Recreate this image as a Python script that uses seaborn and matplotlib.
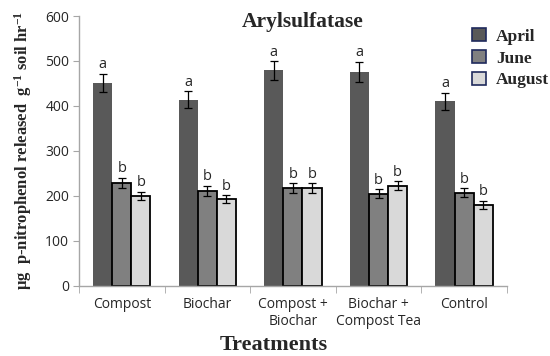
import pandas as pd
import seaborn as sns
import matplotlib.pyplot as plt
from matplotlib.patches import Patch
from matplotlib.ticker import FixedLocator

treatments = ["Compost", "Biochar", "Compost +\nBiochar", "Biochar +\nCompost Tea", "Control"]
months = ["April", "June", "August"]
april = [451, 414, 479, 475, 410]
june = [228, 211, 217, 204, 207]
august = [200, 192, 217, 222, 180]
april_err = [21, 19, 21, 23, 19]
june_err = [12, 11, 11, 10, 10]
august_err = [9, 9, 11, 10, 9]
april_sig = ["a"] * 5
june_sig = ["b"] * 5
august_sig = ["b"] * 5

df = pd.DataFrame({
    "treatment": treatments * 3,
    "month": ["April"] * 5 + ["June"] * 5 + ["August"] * 5,
    "value": april + june + august,
})
errs = [april_err, june_err, august_err]
sigs = [april_sig, june_sig, august_sig]

sns.set_style("white")
plt.rcParams["mathtext.default"] = "regular"
serif = "Liberation Serif"
sans = "Open Sans"
colors = ["#595959", "#808080", "#d9d9d9"]

fig = plt.figure(figsize=(5.5, 3.56), dpi=100)
ax = fig.add_axes([0.1436, 0.198, 0.778, 0.757])
sns.barplot(data=df, x="treatment", y="value", hue="month", order=treatments,
            hue_order=months, palette=colors, width=0.67, errorbar=None,
            legend=False, ax=ax, saturation=1)

bar_groups = list(ax.containers)
for i, cont in enumerate(bar_groups):
    for j, bar in enumerate(cont):
        if i == 0:
            bar.set_edgecolor("#595959")
            bar.set_linewidth(0)
        else:
            bar.set_edgecolor("black")
            bar.set_linewidth(1.3)
        cx = bar.get_x() + bar.get_width() / 2
        h = bar.get_height()
        e = errs[i][j]
        ax.errorbar(cx, h, yerr=e, fmt="none", ecolor="black", elinewidth=0.9,
                    capsize=3, capthick=0.9)
        ax.text(cx, h + e + 3, sigs[i][j], ha="center", va="bottom",
                fontsize=10.5, family=sans)

ax.set_ylim(0, 600)
ax.set_xlim(-0.5, 4.5)
ax.set_yticks(range(0, 601, 100))
ax.tick_params(axis="y", labelsize=10, length=4, color="#a6a6a6", left=True, pad=3)
ax.tick_params(axis="x", which="major", length=0, labelsize=10, pad=8)
ax.xaxis.set_minor_locator(FixedLocator([-0.5, 0.5, 1.5, 2.5, 3.5, 4.5]))
ax.tick_params(axis="x", which="minor", length=5, color="#a6a6a6", bottom=True)
for lab in ax.get_xticklabels() + ax.get_yticklabels():
    lab.set_family(sans)
sns.despine(ax=ax)
for s in ["left", "bottom"]:
    ax.spines[s].set_color("#a6a6a6")
    ax.spines[s].set_linewidth(1)

ax.set_xlabel("Treatments", fontsize=16, fontweight="bold", family=serif)
ax.xaxis.set_label_coords(0.456, -0.185)
ax.set_ylabel("µg  p-nitrophenol released  g$^{-1}$ soil hr$^{-1}$", fontsize=12,
              fontweight="bold", family=serif, labelpad=8)
fig.text(303 / 550, 1 - 22 / 356, "Arylsulfatase", ha="center", va="center",
         fontsize=15.5, fontweight="bold", family=serif)

handles = [Patch(facecolor=c, edgecolor="#1f2a5c", linewidth=1.2) for c in colors]
fig.legend(handles, months, loc="upper left", bbox_to_anchor=(472 / 550, 1 - 28 / 356),
           frameon=False, prop={"family": serif, "weight": "bold", "size": 12.5},
           handlelength=0.8, handleheight=0.8, handletextpad=0.6, labelspacing=0.3,
           borderaxespad=0, borderpad=0)

fig.savefig("out.png", dpi=100)
